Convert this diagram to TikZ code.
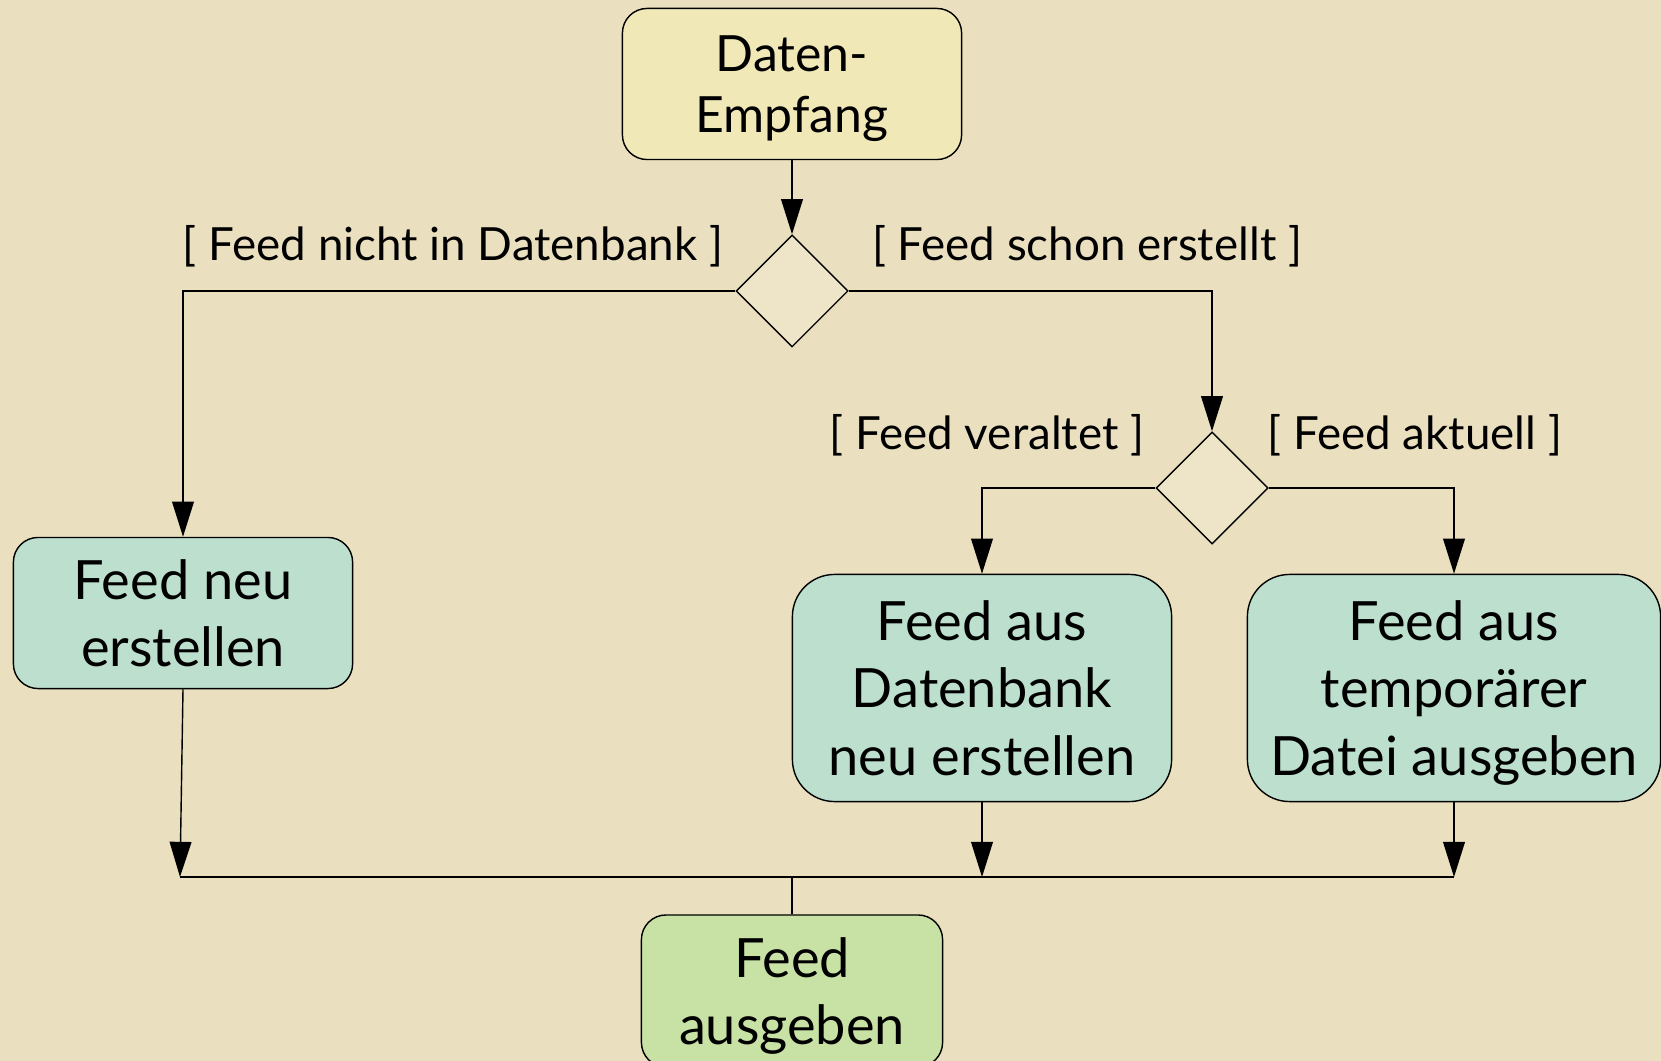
\documentclass[tikz,border=0pt]{standalone}
\usepackage{fontspec}
\setmainfont{Lato}
\usetikzlibrary{shapes.geometric,arrows.meta}
\definecolor{bgcol}{HTML}{EAE0BF}
\definecolor{startcol}{HTML}{F1E8B8}
\definecolor{actcol}{HTML}{BDDFCD}
\definecolor{endcol}{HTML}{C8E2A5}
\definecolor{deccol}{HTML}{EEE5C9}
\tikzstyle{activity} = [draw, rectangle, rounded corners=7pt, fill=actcol,
    align=center, line width=0.4pt, inner sep=0pt, text depth=0pt,
    font=\fontsize{15.4}{19.3}\selectfont]
\tikzstyle{decision} = [draw, diamond, fill=deccol, inner sep=0pt,
    minimum width=1.12cm, minimum height=1.12cm, line width=0.4pt]
\tikzstyle{guard} = [font=\fontsize{13}{15}\selectfont, inner sep=0pt]
\tikzstyle{joinpoint} = [coordinate]

\begin{document}
\begin{tikzpicture}[auto, x=0.01cm, y=-0.01cm, line width=0.4pt,
    >={Triangle[length=10pt,width=6.2pt]}]
    % background and page size
    \fill [bgcol] (0,0) rectangle (1661,1061);
    \clip (0,0) rectangle (1661,1061);

    % We start by placing the activities
    \node [activity, fill=startcol, minimum width=3.39cm, minimum height=1.51cm,
        font=\fontsize{14.2}{17.5}\selectfont] (empfang) at (792,84) {Daten-\\Empfang};
    \node [decision] (dec1) at (792,291) {};
    \node [decision] (dec2) at (1212,488) {};
    \node [activity, minimum width=3.39cm, minimum height=1.51cm]
        (neu) at (183,613) {Feed neu\\erstellen};
    \node [activity, minimum width=3.79cm, minimum height=2.27cm,
        rounded corners=12pt] (dbneu) at (982,688) {Feed aus\\Datenbank\\neu erstellen};
    \node [activity, minimum width=4.13cm, minimum height=2.27cm,
        rounded corners=12pt] (temp) at (1454,688) {Feed aus\\temporärer\\Datei ausgeben};
    \node [activity, fill=endcol, minimum width=3.01cm, minimum height=1.52cm]
        (ausgeben) at (792,991) {Feed\\ausgeben};

    % guards of the decisions
    \node [guard] (g1) at (453,246) {[ Feed nicht in Datenbank ]};
    \node [guard] (g2) at (1087,246) {[ Feed schon erstellt ]};
    \node [guard] (g3) at (987,435) {[ Feed veraltet ]};
    \node [guard] (g4) at (1415,435) {[ Feed aktuell ]};

    % the bar where the branches meet again
    \node [joinpoint] (joinL) at (180,877) {};
    \node [joinpoint] (joinR) at (1454,877) {};

    % Once the nodes are placed, connecting them is easy.
    \draw [->] (empfang) -- (dec1);
    \draw [->] (dec1.west) -| (neu.north);
    \draw [->] (dec1.east) -| (dec2.north);
    \draw [->] (dec2.west) -| (dbneu.north);
    \draw [->] (dec2.east) -| (temp.north);
    \draw (joinL) -- (joinR);
    \draw [->] (neu.south) -- (joinL);
    \draw [->] (dbneu.south) -- (dbneu.south |- joinL);
    \draw [->] (temp.south) -- (temp.south |- joinL);
    \draw (ausgeben.north) -- (ausgeben.north |- joinL);
\end{tikzpicture}
\end{document}
